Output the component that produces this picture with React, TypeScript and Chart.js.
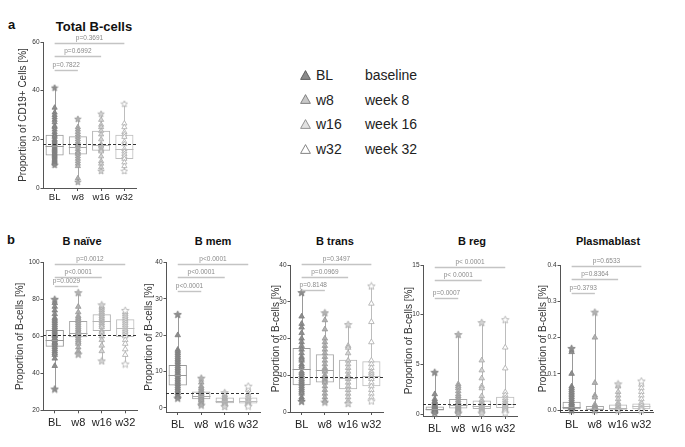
import React, { useEffect, useRef } from "react";
import { Chart, registerables } from "chart.js";

Chart.register(...registerables);

const FONT = "'Liberation Sans', Arial, Helvetica, sans-serif";
const GROUPS = ["BL", "w8", "w16", "w32"];
const LEGEND_DESC = ["baseline", "week 8", "week 16", "week 32"];

// ---------- Total B-cells (panel a) ----------
const TOTAL_Q1 = [13.4, 13.8, 15.3, 11.9];
const TOTAL_MED = [17.4, 17.0, 17.6, 15.9];
const TOTAL_Q3 = [21.9, 21.3, 23.5, 21.9];
const TOTAL_BL = [41.2, 33, 31, 30, 29, 28, 27, 25.5, 25, 24, 23, 22, 21.5, 21, 20, 19.5, 19, 18.5, 18, 17.5, 17, 16.5, 16, 15.5, 15, 14.5, 14, 13.5, 13, 12.5, 12, 11.5, 11, 10.5, 10, 9.5];
const TOTAL_W8 = [28.4, 25, 24, 23, 22, 21, 20, 19, 18, 17.5, 17, 16, 15, 14.5, 14, 13, 12, 11, 10, 9, 4, 2.5];
const TOTAL_W16 = [30.5, 28, 26, 25, 23.5, 22, 20, 18, 17.5, 17, 16, 15.5, 15, 13, 11, 10, 8.5, 7];
const TOTAL_W32 = [34.6, 26.5, 25, 23, 22, 21, 19, 18, 16, 15, 14, 13, 12, 10.5, 9, 7];
const TOTAL_TICKS = [0, 20, 40, 60];
const TOTAL_REF = 18;
const TOTAL_BRACKET_Y = [48.4, 54.2, 59.6];
const TOTAL_P = ["p=0.7822", "p=0.6992", "p=0.3691"];

// ---------- B naive ----------
const NAIVE_Q1 = [54.4, 59.5, 62.9, 59.6];
const NAIVE_MED = [58.0, 61.6, 68.3, 64.3];
const NAIVE_Q3 = [63.4, 68.3, 71.9, 69.2];
const NAIVE_BL = [80, 78, 76, 74, 72, 70, 69, 68, 67, 66, 65, 64, 63, 62, 61, 60.5, 60, 59, 58.5, 58, 57, 56.5, 56, 55, 54, 53, 52, 51, 50, 48, 44, 31.5];
const NAIVE_W8 = [83.6, 76, 73, 71, 70, 69, 68, 67, 66, 65, 64, 63, 62, 61.5, 61, 60, 59, 58, 57, 56, 54, 52, 50.3];
const NAIVE_W16 = [77, 76, 75, 74, 73, 72, 71, 70, 69, 68, 67, 66, 65, 63, 62, 60, 58, 55, 52, 46.7];
const NAIVE_W32 = [74, 73, 72, 71, 70, 69, 68, 67, 66, 65, 64, 63, 62, 61, 60, 58, 56, 53, 50, 45];
const NAIVE_TICKS = [20, 40, 60, 80, 100];
const NAIVE_REF = 60.5;
const NAIVE_BRACKET_Y = [87.2, 92.2, 99];
const NAIVE_P = ["p=0.0029", "p<0.0001", "p=0.0012"];

// ---------- B mem ----------
const MEM_Q1 = [6.2, 2.4, 1.3, 1.2];
const MEM_MED = [9.1, 3.4, 2.0, 1.9];
const MEM_Q3 = [11.8, 4.5, 2.9, 2.9];
const MEM_BL = [25.7, 20, 16, 15.5, 15, 14.5, 14, 13.5, 13, 12.5, 12, 11.5, 11, 10.5, 10, 9.5, 9, 8.5, 8, 7.5, 7, 6.5, 6, 5.5, 5, 4.5, 4, 3.5, 3, 2.7];
const MEM_W8 = [8.2, 7, 6, 5.5, 5, 4.5, 4.2, 4, 3.8, 3.5, 3.2, 3, 2.8, 2.5, 2.2, 2, 1.5, 1, 0.8];
const MEM_W16 = [4.2, 3.5, 3, 2.8, 2.5, 2.2, 2, 1.8, 1.5, 1.3, 1, 0.7, 0.4];
const MEM_W32 = [6, 5, 4, 3.5, 3, 2.7, 2.3, 2, 1.8, 1.5, 1.2, 1, 0.7, 0.5];
const MEM_TICKS = [0, 10, 20, 30, 40];
const MEM_REF = 4;
const MEM_BRACKET_Y = [32, 36.1, 39.6];
const MEM_P = ["p<0.0001", "p<0.0001", "p<0.0001"];

// ---------- B trans ----------
const TRANS_Q1 = [7.3, 8.0, 6.2, 7.0];
const TRANS_MED = [11.8, 11.4, 9.3, 9.8];
const TRANS_Q3 = [17.4, 15.7, 14.2, 13.8];
const TRANS_BL = [32.5, 26, 24, 23, 21.5, 20, 19, 18, 17, 16, 15, 14.5, 14, 13, 12.5, 12, 11, 10.5, 10, 9.5, 9, 8.5, 8, 7.5, 7, 6.5, 6, 5.5, 5, 4, 3.5, 2.9];
const TRANS_W8 = [27, 25, 22.5, 20, 19, 18, 17, 16, 15, 14, 13, 12, 11.5, 11, 10, 9.5, 9, 8.5, 8, 7, 6, 5, 4, 3, 2.7];
const TRANS_W16 = [23.8, 18, 17.5, 16, 14, 13, 12, 11, 10, 9.5, 9, 8, 7, 6, 5, 4, 3, 2.3];
const TRANS_W32 = [34.3, 29.5, 24.5, 19, 14, 13, 12, 11, 10.5, 10, 9.5, 9, 8, 7, 6, 5, 4, 3];
const TRANS_TICKS = [0, 10, 20, 30, 40];
const TRANS_REF = 9.5;
const TRANS_BRACKET_Y = [33.2, 36.8, 40.2];
const TRANS_P = ["p=0.8148", "p=0.0969", "p=0.3497"];

// ---------- B reg ----------
const REG_Q1 = [0.35, 0.55, 0.5, 0.6];
const REG_MED = [0.55, 0.95, 0.85, 1.05];
const REG_Q3 = [0.75, 1.5, 1.35, 1.75];
const REG_BL = [4.2, 2, 1.5, 1.3, 1.2, 1.1, 1, 0.9, 0.8, 0.7, 0.65, 0.6, 0.55, 0.5, 0.45, 0.4, 0.35, 0.3, 0.25, 0.2, 0.1];
const REG_W8 = [8, 3, 2.8, 2.6, 2.3, 2, 1.8, 1.6, 1.4, 1.2, 1.1, 1, 0.9, 0.8, 0.7, 0.6, 0.5, 0.4, 0.3, 0.2, 0.1];
const REG_W16 = [9.2, 5.4, 4.4, 3.6, 2.8, 2.6, 1.8, 1.4, 1.2, 1, 0.9, 0.8, 0.7, 0.6, 0.5, 0.4, 0.3, 0.2, 0.1];
const REG_W32 = [9.5, 6.7, 4.6, 2.2, 1.9, 1.6, 1.4, 1.2, 1.1, 1, 0.9, 0.8, 0.7, 0.6, 0.5, 0.4, 0.3, 0.1];
const REG_TICKS = [0, 5, 10, 15];
const REG_REF = 1;
const REG_BRACKET_Y = [11.7, 13.5, 14.8];
const REG_P = ["p=0.0007", "p< 0.0001", "p< 0.0001"];

// ---------- Plasmablast ----------
const PLASMA_Q1 = [0.002, 0.001, 0.001, 0.002];
const PLASMA_MED = [0.008, 0.004, 0.006, 0.01];
const PLASMA_Q3 = [0.023, 0.011, 0.015, 0.018];
const PLASMA_BL = [0.17, 0.16, 0.1, 0.065, 0.06, 0.055, 0.05, 0.045, 0.04, 0.035, 0.03, 0.025, 0.02, 0.018, 0.015, 0.012, 0.01, 0.008, 0.006, 0.004, 0.002, 0];
const PLASMA_W8 = [0.27, 0.2, 0.075, 0.04, 0.035, 0.015, 0.01, 0.008, 0.005, 0.003, 0.001, 0];
const PLASMA_W16 = [0.072, 0.065, 0.05, 0.04, 0.03, 0.02, 0.015, 0.01, 0.005, 0.002, 0];
const PLASMA_W32 = [0.08, 0.07, 0.06, 0.05, 0.04, 0.03, 0.02, 0.015, 0.01, 0.005, 0];
const PLASMA_TICKS = [0, 0.1, 0.2, 0.3, 0.4];
const PLASMA_REF = 0.001;
const PLASMA_BRACKET_Y = [0.322, 0.361, 0.398];
const PLASMA_P = ["p=0.3793", "p=0.8364", "p=0.6533"];

// ---------- styles ----------
const BOX_COLORS = ["#9a9a9a", "#a6a6a6", "#b4b4b4", "#bdbdbd"];
const TRI_FILL = ["#8e8e8e", "#b2b2b2", "#d4d4d4", "#ffffff"];
const TRI_STROKE = ["#7c7c7c", "#989898", "#a8a8a8", "#ababab"];
const LEGEND_FILL = ["#8a8a8a", "#c8c8c8", "#e2e2e2", "#ffffff"];
const LEGEND_STROKE = ["#555555", "#777777", "#888888", "#777777"];

type PanelCfg = {
  L: number; T: number; W: number; H: number;
  yWidth: number; padTop: number; padRight: number; xHeight: number;
  min: number; max: number; ticks: number[]; decimals: number;
  q1: number[]; med: number[]; q3: number[]; points: number[][];
  ref: number; bracketY: number[]; pLabels: string[];
  yTitle: string; xFont: number; xPad: number; markerR: number; starSize: number;
};

const PANELS: PanelCfg[] = [
  { L: 17, T: 30, W: 128, H: 175, yWidth: 26, padTop: 12, padRight: 9, xHeight: 17,
    min: 0, max: 60, ticks: TOTAL_TICKS, decimals: 0,
    q1: TOTAL_Q1, med: TOTAL_MED, q3: TOTAL_Q3, points: [TOTAL_BL, TOTAL_W8, TOTAL_W16, TOTAL_W32],
    ref: TOTAL_REF, bracketY: TOTAL_BRACKET_Y, pLabels: TOTAL_P,
    yTitle: "Proportion of CD19+ Cells [%]", xFont: 9.5, xPad: 1, markerR: 3, starSize: 8 },
  { L: 14, T: 250, W: 131, H: 185, yWidth: 29, padTop: 12.3, padRight: 8, xHeight: 24.7,
    min: 20, max: 100, ticks: NAIVE_TICKS, decimals: 0,
    q1: NAIVE_Q1, med: NAIVE_MED, q3: NAIVE_Q3, points: [NAIVE_BL, NAIVE_W8, NAIVE_W16, NAIVE_W32],
    ref: NAIVE_REF, bracketY: NAIVE_BRACKET_Y, pLabels: NAIVE_P,
    yTitle: "Proportion of B-cells [%]", xFont: 11, xPad: 3, markerR: 3.2, starSize: 9 },
  { L: 143, T: 250, W: 125, H: 185, yWidth: 23, padTop: 12.3, padRight: 8, xHeight: 23,
    min: -1.1, max: 40, ticks: MEM_TICKS, decimals: 0,
    q1: MEM_Q1, med: MEM_MED, q3: MEM_Q3, points: [MEM_BL, MEM_W8, MEM_W16, MEM_W32],
    ref: MEM_REF, bracketY: MEM_BRACKET_Y, pLabels: MEM_P,
    yTitle: "Proportion of B-cells [%]", xFont: 11, xPad: 3, markerR: 3.2, starSize: 9 },
  { L: 270, T: 250, W: 122, H: 185, yWidth: 20, padTop: 15, padRight: 9, xHeight: 23,
    min: 0, max: 40, ticks: TRANS_TICKS, decimals: 0,
    q1: TRANS_Q1, med: TRANS_MED, q3: TRANS_Q3, points: [TRANS_BL, TRANS_W8, TRANS_W16, TRANS_W32],
    ref: TRANS_REF, bracketY: TRANS_BRACKET_Y, pLabels: TRANS_P,
    yTitle: "Proportion of B-cells [%]", xFont: 11, xPad: 3, markerR: 3.2, starSize: 9 },
  { L: 403, T: 250, W: 123, H: 185, yWidth: 20, padTop: 15, padRight: 9, xHeight: 19,
    min: -0.2, max: 15, ticks: REG_TICKS, decimals: 0,
    q1: REG_Q1, med: REG_MED, q3: REG_Q3, points: [REG_BL, REG_W8, REG_W16, REG_W32],
    ref: REG_REF, bracketY: REG_BRACKET_Y, pLabels: REG_P,
    yTitle: "Proportion of B-cells [%]", xFont: 11, xPad: 3, markerR: 3.2, starSize: 9 },
  { L: 537, T: 250, W: 125, H: 185, yWidth: 23, padTop: 15, padRight: 9, xHeight: 23,
    min: -0.0055, max: 0.4, ticks: PLASMA_TICKS, decimals: 1,
    q1: PLASMA_Q1, med: PLASMA_MED, q3: PLASMA_Q3, points: [PLASMA_BL, PLASMA_W8, PLASMA_W16, PLASMA_W32],
    ref: PLASMA_REF, bracketY: PLASMA_BRACKET_Y, pLabels: PLASMA_P,
    yTitle: "Proportion of B-cells [%]", xFont: 11, xPad: 3, markerR: 3.2, starSize: 9 },
];

const TITLES = [
  { text: "B naïve", x: 82 },
  { text: "B mem", x: 213 },
  { text: "B trans", x: 335 },
  { text: "B reg", x: 472 },
  { text: "Plasmablast", x: 608 },
];

function starCanvas(fill: string, stroke: string, size: number) {
  const c = document.createElement("canvas");
  c.width = size;
  c.height = size;
  const ctx = c.getContext("2d")!;
  const cx = size / 2, cy = size / 2 + 0.3;
  const R = size / 2 - 0.6, r = R * 0.45;
  ctx.beginPath();
  for (let k = 0; k < 10; k++) {
    const ang = -Math.PI / 2 + (k * Math.PI) / 5;
    const rad = k % 2 === 0 ? R : r;
    ctx.lineTo(cx + rad * Math.cos(ang), cy + rad * Math.sin(ang));
  }
  ctx.closePath();
  ctx.fillStyle = fill;
  ctx.fill();
  ctx.strokeStyle = stroke;
  ctx.lineWidth = 0.8;
  ctx.stroke();
  return c;
}

function boxPlugin(p: PanelCfg) {
  return {
    id: "boxExtras",
    beforeDatasetsDraw(chart: any) {
      const { ctx, scales } = chart;
      const xs = scales.x, ys = scales.y;
      ctx.save();
      ctx.lineWidth = 1;
      p.points.forEach((pts, i) => {
        const x = Math.round(xs.getPixelForValue(i)) + 0.5;
        const lo = Math.min(...pts), hi = Math.max(...pts);
        ctx.strokeStyle = BOX_COLORS[i];
        ctx.beginPath();
        ctx.moveTo(x, ys.getPixelForValue(lo));
        ctx.lineTo(x, ys.getPixelForValue(p.q1[i]));
        ctx.moveTo(x, ys.getPixelForValue(p.q3[i]));
        ctx.lineTo(x, ys.getPixelForValue(hi));
        ctx.stroke();
      });
      ctx.restore();
    },
    afterDatasetsDraw(chart: any) {
      const { ctx, scales, chartArea } = chart;
      const xs = scales.x, ys = scales.y;
      const meta = chart.getDatasetMeta(0);
      ctx.save();
      ctx.lineWidth = 1;
      p.med.forEach((m, i) => {
        const el = meta.data[i];
        const x = xs.getPixelForValue(i);
        const w = el ? el.width : 18;
        const y = Math.round(ys.getPixelForValue(m)) + 0.5;
        ctx.strokeStyle = BOX_COLORS[i];
        ctx.beginPath();
        ctx.moveTo(x - w / 2, y);
        ctx.lineTo(x + w / 2, y);
        ctx.stroke();
      });
      const yr = Math.round(ys.getPixelForValue(p.ref)) + 0.5;
      ctx.strokeStyle = "#333333";
      ctx.setLineDash([3, 2]);
      ctx.beginPath();
      ctx.moveTo(chartArea.left, yr);
      ctx.lineTo(chartArea.right, yr);
      ctx.stroke();
      ctx.restore();
    },
    afterDraw(chart: any) {
      const { ctx, scales } = chart;
      const xs = scales.x, ys = scales.y;
      ctx.save();
      const x0 = xs.getPixelForValue(0);
      p.bracketY.forEach((v, k) => {
        const x1 = xs.getPixelForValue(k + 1);
        const y = Math.round(ys.getPixelForValue(v)) + 0.5;
        ctx.strokeStyle = "#c4c4c4";
        ctx.lineWidth = 1.4;
        ctx.beginPath();
        ctx.moveTo(x0, y);
        ctx.lineTo(x1, y);
        ctx.stroke();
        ctx.fillStyle = "#8a8a8a";
        ctx.font = `6.5px ${FONT}`;
        ctx.textAlign = "center";
        ctx.textBaseline = "bottom";
        ctx.fillText(p.pLabels[k], (x0 + x1) / 2, y - 2);
      });
      ctx.restore();
    },
  };
}

function makeChart(canvas: HTMLCanvasElement, p: PanelCfg) {
  const stars = GROUPS.map((_, i) => starCanvas(TRI_FILL[i], TRI_STROKE[i], p.starSize));
  const datasets: any[] = [
    {
      type: "bar",
      data: GROUPS.map((_, i) => [p.q1[i], p.q3[i]]),
      backgroundColor: "rgba(0,0,0,0)",
      borderColor: BOX_COLORS,
      borderWidth: 1,
      borderSkipped: false,
      barPercentage: 0.78,
      categoryPercentage: 1,
      order: 3,
    },
  ];
  p.points.forEach((pts, i) => {
    const lo = Math.min(...pts), hi = Math.max(...pts);
    datasets.push({
      type: "line",
      showLine: false,
      clip: false,
      data: pts.filter((v) => v !== lo && v !== hi).map((v) => ({ x: GROUPS[i], y: v })),
      pointStyle: "triangle",
      pointRadius: p.markerR,
      pointBackgroundColor: TRI_FILL[i],
      pointBorderColor: TRI_STROKE[i],
      pointBorderWidth: 0.8,
      order: 2,
    });
    datasets.push({
      type: "line",
      showLine: false,
      clip: false,
      data: [{ x: GROUPS[i], y: lo }, { x: GROUPS[i], y: hi }],
      pointStyle: stars[i],
      pointRadius: 4,
      order: 1,
    });
  });

  return new Chart(canvas, {
    type: "bar",
    data: { labels: GROUPS, datasets },
    plugins: [boxPlugin(p)],
    options: {
      animation: false,
      responsive: false,
      devicePixelRatio: 1,
      events: [],
      layout: { padding: { left: 0, top: p.padTop, right: p.padRight, bottom: 0 } },
      plugins: { legend: { display: false }, tooltip: { enabled: false }, title: { display: false } },
      scales: {
        x: {
          type: "category",
          offset: true,
          afterFit: (s: any) => { s.height = p.xHeight; },
          ticks: { font: { size: p.xFont, family: FONT }, color: "#222", padding: p.xPad, maxRotation: 0, autoSkip: false },
          grid: { drawOnChartArea: false, offset: false, drawTicks: true, tickLength: 3, color: "#555" },
          border: { display: true, color: "#555", width: 1 },
        },
        y: {
          type: "linear",
          min: p.min,
          max: p.max,
          afterBuildTicks: (s: any) => { s.ticks = p.ticks.map((v) => ({ value: v })); },
          afterFit: (s: any) => { s.width = p.yWidth; },
          ticks: {
            font: { size: 6.5, family: FONT },
            color: "#333",
            padding: 1,
            callback: (v: any) => Number(v).toFixed(p.decimals),
          },
          grid: { drawOnChartArea: false, drawTicks: true, tickLength: 2.5, color: "#555" },
          border: { display: true, color: "#555", width: 1 },
          title: { display: true, text: p.yTitle, font: { size: 10, family: FONT }, color: "#333", padding: 0 },
        },
      },
    } as any,
  });
}

function Panel({ p }: { p: PanelCfg }) {
  const ref = useRef<HTMLCanvasElement | null>(null);
  useEffect(() => {
    const c = makeChart(ref.current!, p);
    return () => c.destroy();
  }, [p]);
  return (
    <canvas
      ref={ref}
      width={p.W}
      height={p.H}
      style={{ position: "absolute", left: p.L, top: p.T, width: p.W, height: p.H }}
    />
  );
}

export default function App() {
  const txt = (extra: any) => ({ position: "absolute", lineHeight: 1, whiteSpace: "nowrap", fontFamily: FONT, color: "#111", ...extra });
  return (
    <div style={{ position: "fixed", left: 0, top: 0, width: 685, height: 447, background: "#fff", overflow: "hidden", fontFamily: FONT }}>
      <div style={txt({ left: 8, top: 18, fontSize: 13, fontWeight: "bold" })}>a</div>
      <div style={txt({ left: 94, top: 20, fontSize: 13, fontWeight: "bold", transform: "translateX(-50%)" })}>Total B-cells</div>
      <div style={txt({ left: 7, top: 233, fontSize: 13, fontWeight: "bold" })}>b</div>
      {TITLES.map((t) => (
        <div key={t.text} style={txt({ left: t.x, top: 236, fontSize: 11, fontWeight: "bold", transform: "translateX(-50%)" })}>{t.text}</div>
      ))}
      {GROUPS.map((g, i) => {
        const cy = 75 + i * 24.7;
        return (
          <React.Fragment key={g}>
            <svg style={{ position: "absolute", left: 300, top: cy - 5.5 }} width={11} height={10}>
              <polygon points="5.5,0.6 10.4,9.4 0.6,9.4" fill={LEGEND_FILL[i]} stroke={LEGEND_STROKE[i]} strokeWidth={0.9} />
            </svg>
            <div style={txt({ left: 316, top: cy - 7, fontSize: 14, color: "#222" })}>{g}</div>
            <div style={txt({ left: 365, top: cy - 7, fontSize: 14, color: "#222" })}>{LEGEND_DESC[i]}</div>
          </React.Fragment>
        );
      })}
      {PANELS.map((p, i) => (
        <Panel key={i} p={p} />
      ))}
    </div>
  );
}
